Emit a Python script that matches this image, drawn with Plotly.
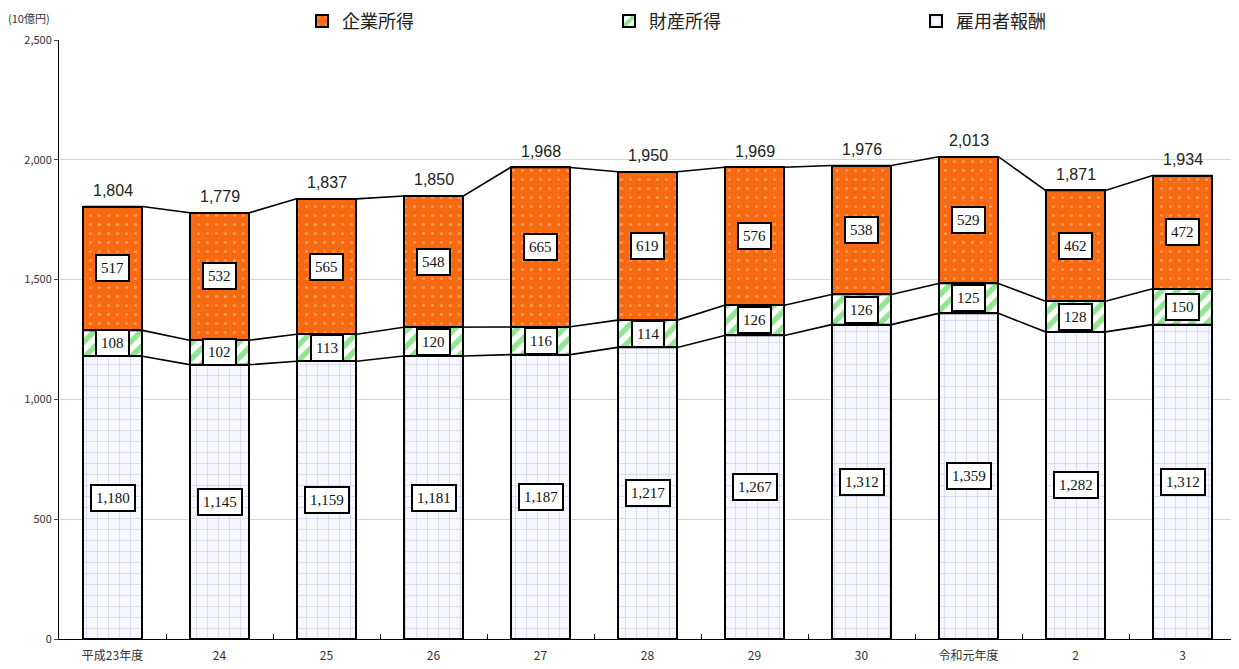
import plotly.graph_objects as go

categories = ["平成23年度", "24", "25", "26", "27", "28", "29", "30", "令和元年度", "2", "3"]
employee = [1180, 1145, 1159, 1181, 1187, 1217, 1267, 1312, 1359, 1282, 1312]
property_inc = [108, 102, 113, 120, 116, 114, 126, 126, 125, 128, 150]
corporate = [517, 532, 565, 548, 665, 619, 576, 538, 529, 462, 472]
totals = [1804, 1779, 1837, 1850, 1968, 1950, 1969, 1976, 2013, 1871, 1934]
y_ticks = [0, 500, 1000, 1500, 2000, 2500]

xs = list(range(len(categories)))
W = 0.56

fig = go.Figure()
fig.add_trace(go.Bar(
    x=xs, y=employee, name="雇用者報酬", width=W,
    marker=dict(color="#f5f6ff", line=dict(color="black", width=2),
                pattern=dict(shape="+", fgcolor="#8e9bdc", bgcolor="#f7f8ff", size=11, solidity=0.1)),
))
fig.add_trace(go.Bar(
    x=xs, y=property_inc, name="財産所得", width=W,
    marker=dict(color="white", line=dict(color="black", width=2),
                pattern=dict(shape="/", fgcolor="#22cc22", bgcolor="white", size=11, solidity=0.5)),
))
fig.add_trace(go.Bar(
    x=xs, y=corporate, name="企業所得", width=W,
    marker=dict(color="#f86a12", line=dict(color="black", width=2),
                pattern=dict(shape=".", fgcolor="#ffc89a", bgcolor="#f86a12", size=9, solidity=0.1)),
))

# connector lines
lvl1 = employee
lvl2 = [a + b for a, b in zip(employee, property_inc)]
lvl3 = [a + b + c for a, b, c in zip(employee, property_inc, corporate)]
for lvl in (lvl1, lvl2, lvl3):
    lx, ly = [], []
    for i, v in enumerate(lvl):
        lx += [i - W / 2, i + W / 2]
        ly += [v, v]
    fig.add_trace(go.Scatter(x=lx, y=ly, mode="lines", line=dict(color="black", width=1.6),
                             showlegend=False, hoverinfo="skip"))

ann = []
box_font = dict(family="Liberation Serif, DejaVu Serif, serif", size=15, color="#111")
for i in xs:
    for base, val in ((0, employee[i]), (lvl1[i], property_inc[i]), (lvl2[i], corporate[i])):
        ann.append(dict(x=i, y=base + val / 2, text=f"{val:,}", showarrow=False,
                        font=box_font, bgcolor="white", bordercolor="black", borderwidth=2,
                        borderpad=4, xref="x", yref="y"))
    ann.append(dict(x=i, y=lvl3[i], text=f"{totals[i]:,}", showarrow=False, yshift=16,
                    font=dict(family="Liberation Sans, Arial, sans-serif", size=16, color="#222"),
                    xref="x", yref="y"))
PW = 1177
ann.append(dict(xref="paper", yref="paper", x=-53 / PW, y=1 + 22 / 599, text="(10億円)", showarrow=False,
                font=dict(size=11, color="#333"), xanchor="left", yanchor="middle"))

fig.update_layout(
    width=1231, height=661,
    margin=dict(l=51, r=3, t=32, b=30, autoexpand=False),
    barmode="stack", bargap=0.44,
    plot_bgcolor="white", paper_bgcolor="white",
    font=dict(family="Noto Sans CJK JP, sans-serif", color="#222"),
    legend=dict(orientation="h", traceorder="reversed", x=(302 - 59) / PW, y=1.062, xanchor="left", yanchor="top",
                font=dict(size=18, family="Noto Sans CJK JP, sans-serif"), entrywidth=262, entrywidthmode="pixels",
                bgcolor="rgba(0,0,0,0)"),
    annotations=ann,
    showlegend=True,
)
fig.update_xaxes(range=[-0.5, len(categories) - 0.5], tickvals=xs, ticktext=categories,
                 showline=True, linecolor="black", linewidth=1, ticks="", showgrid=False,
                 tickfont=dict(size=12, color="#333"), ticklabelstandoff=6,
                 minor=dict(tickvals=[i + 0.5 for i in xs], ticks="inside", ticklen=5, tickcolor="black", showgrid=False))
fig.update_yaxes(range=[0, 2500], tickvals=y_ticks, ticktext=[f"{v:,}" for v in y_ticks],
                 showline=True, linecolor="black", linewidth=1, ticks="outside", ticklen=4,
                 showgrid=True, gridcolor="#d6d6d6", gridwidth=1, zeroline=False,
                 tickfont=dict(size=11, color="#333"))
fig.write_html("out.html")
